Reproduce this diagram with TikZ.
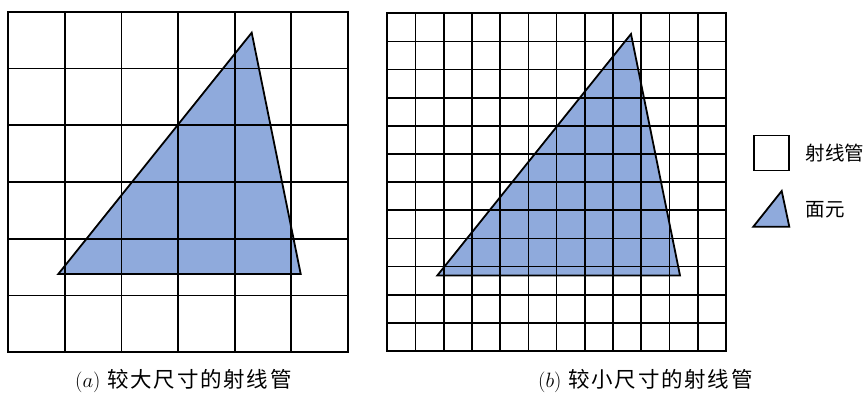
\documentclass[tikz,border=0pt]{standalone}
\usepackage{fontspec}
\newfontfamily\cjk[LetterSpace=8]{Noto Sans CJK SC}
\newfontfamily\cjklegend{Noto Sans CJK SC}
\usetikzlibrary{positioning}
\definecolor{facetblue}{RGB}{143,170,220}
\tikzset{
  gridline/.style={line width=1.7pt, black, line cap=rect},
  facet/.style={draw=black, line width=1.8pt, fill=facetblue, line join=miter},
  subcap/.style={font=\fontsize{21.5}{24}\selectfont, anchor=west, inner sep=0pt},
  legtext/.style={font=\cjklegend\fontsize{19.5}{22}\selectfont, anchor=west, inner sep=0pt},
  legbox/.style={draw=black, line width=1.7pt, fill=white, minimum size=35pt, inner sep=0pt},
}
\begin{document}
\begin{tikzpicture}[x=1pt, y=-1pt]
\useasboundingbox (0,0) rectangle (866,393);

% (a) coarse ray tubes
\fill[facetblue] (58.3,274) -- (251.7,32.7) -- (300.7,274) -- cycle;
\foreach \i in {0,...,6} {
  \draw[gridline] ({8.3+\i*56.6},11.7) -- ({8.3+\i*56.6},352.3);
  \draw[gridline] (8.3,{11.7+\i*56.77}) -- (348,{11.7+\i*56.77});
}
\draw[facet, fill=none] (58.3,274) -- (251.7,32.7) -- (300.7,274) -- cycle;

% (b) fine ray tubes
\fill[facetblue] (437.3,275.5) -- (631,34) -- (680,275.5) -- cycle;
\foreach \i in {0,...,12} {
  \draw[gridline] ({387.3+\i*28.22},13.3) -- ({387.3+\i*28.22},351);
  \draw[gridline] (387.3,{13.3+\i*28.14}) -- (726,{13.3+\i*28.14});
}
\draw[facet, fill=none] (437.3,275.5) -- (631,34) -- (680,275.5) -- cycle;

% legend
\node[legbox] (tubebox) at (771.3,153) {};
\node[legtext, right=16pt of tubebox] (tubetext) {射线管};
\draw[facet] (753.3,226.7) -- (781.7,191) -- (789.3,226.7) -- cycle;
\coordinate (facetpt) at (789.3,210);
\node[legtext, right=16pt of facetpt] (facettext) {面元};

% captions
\node[subcap] (capa) at (75,381) {$(a)$\hspace{7pt}\cjk 较大尺寸的射线管};
\node[subcap] (capb) at (538,381) {$(b)$\hspace{7pt}\cjk 较小尺寸的射线管};
\end{tikzpicture}
\end{document}
